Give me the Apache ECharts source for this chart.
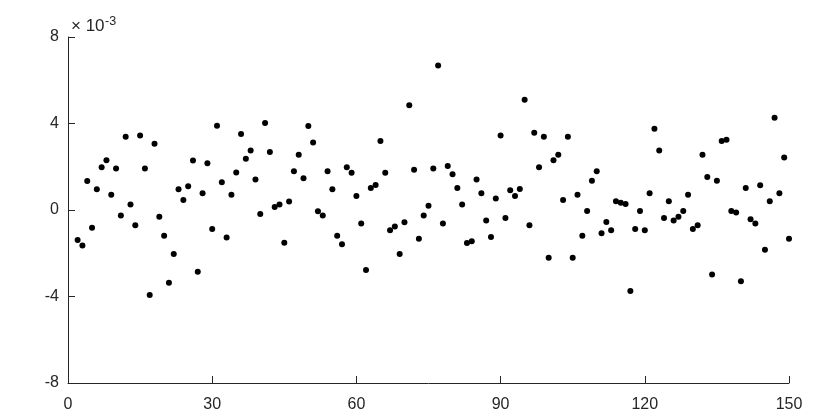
<!DOCTYPE html>
<html>
<head>
<meta charset="utf-8">
<script src="https://cdn.jsdelivr.net/npm/echarts@6/dist/echarts.min.js"></script>
<style>html,body{margin:0;padding:0;background:#fff}#c{width:830px;height:415px}</style>
</head>
<body>
<div id="c"></div>
<script>
// x index of first sample
const firstIndex = 2;
// values in units of 1e-3, samples 2..150
const yValues = [
  -1.39, -1.64, 1.34, -0.82, 0.96, 1.98, 2.30, 0.71, 1.92, -0.25,
  3.39, 0.26, -0.70, 3.45, 1.92, -3.93, 3.06, -0.31, -1.19, -3.36,
  -2.03, 0.96, 0.46, 1.10, 2.29, -2.86, 0.77, 2.16, -0.88, 3.90,
  1.28, -1.27, 0.71, 1.73, 3.51, 2.37, 2.75, 1.41, -0.19, 4.02,
  2.68, 0.14, 0.26, -1.52, 0.39, 1.79, 2.55, 1.47, 3.89, 3.12,
  -0.06, -0.25, 1.79, 0.96, -1.19, -1.58, 1.98, 1.72, 0.65, -0.63,
  -2.78, 1.02, 1.16, 3.19, 1.72, -0.94, -0.76, -2.03, -0.57, 4.84,
  1.86, -1.33, -0.25, 0.20, 1.92, 6.68, -0.63, 2.04, 1.65, 1.02,
  0.26, -1.53, -1.45, 1.41, 0.77, -0.49, -1.25, 0.53, 3.45, -0.37,
  0.91, 0.65, 0.97, 5.10, -0.70, 3.57, 1.98, 3.39, -2.21, 2.30,
  2.55, 0.46, 3.39, -2.21, 0.71, -1.19, -0.05, 1.35, 1.79, -1.07,
  -0.56, -0.94, 0.40, 0.34, 0.28, -3.74, -0.88, -0.05, -0.94, 0.77,
  3.76, 2.75, -0.37, 0.40, -0.49, -0.31, -0.05, 0.71, -0.88, -0.70,
  2.55, 1.53, -2.98, 1.35, 3.19, 3.25, -0.05, -0.11, -3.29, 1.02,
  -0.43, -0.63, 1.15, -1.84, 0.40, 4.27, 0.77, 2.43, -1.33
];
const xTicks = [0, 30, 60, 90, 120, 150];
const yTicks = [-8, -4, 0, 4, 8];
const exponentLabel = ['\u00d7 10', '-3'];

const points = yValues.map((v, k) => [firstIndex + k, v]);
const axisColor = '#262626';
const font = '"Liberation Sans", Helvetica, Arial, sans-serif';

const chart = echarts.init(document.getElementById('c'), null, {renderer: 'canvas'});
chart.setOption({
  animation: false,
  backgroundColor: '#ffffff',
  grid: {left: 68, right: 41, top: 37, bottom: 32, containLabel: false},
  xAxis: {
    type: 'value', min: xTicks[0], max: xTicks[xTicks.length - 1], interval: 30,
    axisLine: {show: true, onZero: false, lineStyle: {color: axisColor, width: 1}},
    axisTick: {show: true, inside: true, length: 7, lineStyle: {color: axisColor}},
    axisLabel: {color: axisColor, fontSize: 16, fontFamily: font, margin: 14},
    splitLine: {show: false}
  },
  yAxis: {
    type: 'value', min: yTicks[0], max: yTicks[yTicks.length - 1], interval: 4,
    axisLine: {show: true, onZero: false, lineStyle: {color: axisColor, width: 1}},
    axisTick: {show: true, inside: true, length: 7, lineStyle: {color: axisColor}},
    axisLabel: {color: axisColor, fontSize: 16, fontFamily: font, margin: 9},
    splitLine: {show: false}
  },
  graphic: [
    {type: 'text', left: 71, top: 18, style: {text: exponentLabel[0], fontSize: 17, fontFamily: font, fill: axisColor}},
    {type: 'text', left: 105, top: 15, style: {text: exponentLabel[1], fontSize: 12.5, fontFamily: font, fill: axisColor}}
  ],
  series: [{
    type: 'scatter',
    data: points,
    symbol: 'circle',
    symbolSize: 6,
    itemStyle: {color: '#000000', opacity: 1},
    emphasis: {disabled: true}
  }]
});
</script>
</body>
</html>
